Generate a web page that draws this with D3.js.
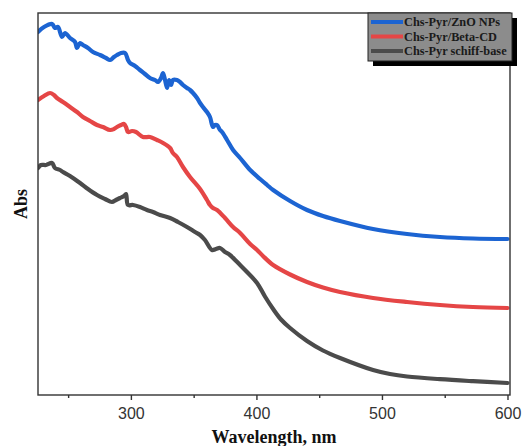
<!DOCTYPE html>
<html><head><meta charset="utf-8">
<script src="https://cdn.jsdelivr.net/npm/d3@7"></script>
<style>body{margin:0;background:#fff}svg{display:block}</style>
</head><body>
<svg id="c" width="527" height="446"></svg>
<script>
const xTicks = [300, 400, 500, 600];
const xMinor = [250, 350, 450, 550];
const seriesNames = ["Chs-Pyr/ZnO NPs", "Chs-Pyr/Beta-CD", "Chs-Pyr schiff-base"];
const seriesColors = ["#1c64d2", "#e54646", "#4b4b4b"];

const znoWl = [226.0,230.8,237.2,239.5,241.9,245.1,247.5,251.5,255.5,257.1,259.5,261.8,265.8,269.8,275.4,280.2,283.4,286.5,288.9,292.1,295.3,297.7,299.3,303.3,307.2,311.2,315.2,319.2,321.6,324.0,325.6,327.2,328.8,330.4,332.0,333.5,336.7,339.1,341.5,344.7,347.1,349.5,352.7,355.1,357.4,360.6,363.0,365.4,367.0,368.6,371.0,372.6,376.6,381.4,387.0,395.0,402.9,408.5,413.3,426.8,440.3,453.0,466.6,492.9,520.0,546.2,572.5,600.0];
const znoAbs = [3.63,3.68,3.71,3.67,3.68,3.58,3.62,3.57,3.53,3.47,3.52,3.50,3.47,3.43,3.40,3.37,3.35,3.38,3.40,3.42,3.42,3.35,3.32,3.29,3.25,3.21,3.17,3.15,3.13,3.17,3.22,3.15,3.07,3.15,3.10,3.15,3.15,3.13,3.10,3.07,3.05,3.02,2.97,2.92,2.88,2.83,2.78,2.68,2.70,2.70,2.65,2.63,2.55,2.45,2.37,2.25,2.16,2.10,2.05,1.94,1.85,1.79,1.74,1.66,1.61,1.58,1.565,1.56];

const cdWl = [226.0,230.8,235.6,238.7,241.1,245.9,251.5,257.1,261.8,267.4,273.0,277.8,283.4,286.5,288.9,292.1,294.5,296.1,297.7,300.9,304.1,309.6,315.2,320.8,325.6,331.2,333.5,336.7,341.5,347.1,355.1,360.6,363.0,365.4,368.6,375.0,381.4,387.0,395.0,400.5,405.2,413.3,426.8,440.3,453.0,466.6,492.9,520.0,546.2,572.5,600.0];
const cdAbs = [2.95,2.99,3.02,3.00,2.97,2.93,2.88,2.83,2.78,2.74,2.70,2.68,2.65,2.66,2.68,2.70,2.71,2.68,2.63,2.64,2.63,2.58,2.58,2.55,2.52,2.47,2.42,2.38,2.28,2.18,2.06,1.95,1.90,1.87,1.85,1.77,1.68,1.62,1.51,1.45,1.39,1.30,1.205,1.13,1.075,1.03,0.97,0.93,0.90,0.88,0.87];

const sbWl = [226.0,228.4,232.4,237.2,239.5,243.5,245.9,251.5,259.5,265.8,273.0,279.4,284.9,288.1,291.3,294.5,296.1,297.7,301.7,307.2,312.8,317.6,323.2,331.2,337.5,344.7,351.1,355.1,359.0,364.6,367.8,371.0,375.0,378.9,387.0,392.5,400.5,406.8,413.3,419.6,426.8,440.3,453.0,466.6,492.9,506.4,520.0,546.2,572.5,600.0];
const sbAbs = [2.27,2.30,2.30,2.32,2.27,2.25,2.23,2.19,2.12,2.06,2.00,1.96,1.93,1.95,1.97,1.99,2.01,1.90,1.90,1.88,1.85,1.83,1.80,1.77,1.73,1.68,1.63,1.60,1.55,1.45,1.46,1.47,1.43,1.40,1.30,1.23,1.12,0.985,0.86,0.755,0.67,0.54,0.445,0.37,0.25,0.21,0.185,0.158,0.138,0.12];

const svg = d3.select("#c");
const L = 38, R = 510, T = 13, B = 395;
const x = d3.scaleLinear().domain([226, 602]).range([L, R]);
const y = d3.scaleLinear().domain([0, 3.82]).range([B, T]);

const series = [
  {wl: znoWl, v: znoAbs},
  {wl: cdWl, v: cdAbs},
  {wl: sbWl, v: sbAbs}
];

const line = d3.line().x(d => x(d[0])).y(d => y(d[1])).curve(d3.curveCatmullRom.alpha(0.5));
svg.append("clipPath").attr("id","pc").append("rect")
  .attr("x", L).attr("y", T).attr("width", R-L).attr("height", B-T);
series.slice().reverse().forEach((s, ri) => {
  const i = series.length - 1 - ri;
  svg.append("path")
    .attr("d", line(s.wl.map((w, k) => [w, s.v[k]])))
    .attr("fill", "none").attr("stroke", seriesColors[i])
    .attr("stroke-width", 4.2).attr("stroke-linejoin", "round").attr("stroke-linecap","round")
    .attr("clip-path", "url(#pc)");
});

// frame
svg.append("rect").attr("x", L).attr("y", T).attr("width", R-L).attr("height", B-T)
  .attr("fill","none").attr("stroke","#333").attr("stroke-width",1.4);

// x axis
const xa = svg.append("g").attr("transform", `translate(0,${B})`)
  .call(d3.axisBottom(x).tickValues(xTicks).tickSize(5).tickPadding(8).tickFormat(d3.format("d")));
xa.select(".domain").remove();
xa.selectAll("line").attr("stroke","#333").attr("stroke-width",1.4);
xa.selectAll("text").attr("font-family","Liberation Sans, Arial, sans-serif").attr("font-size",16).attr("fill","#333");
const xm = svg.append("g").attr("transform", `translate(0,${B})`)
  .call(d3.axisBottom(x).tickValues(xMinor).tickSize(3).tickFormat(""));
xm.select(".domain").remove();
xm.selectAll("line").attr("stroke","#333").attr("stroke-width",1.4);

svg.append("text").attr("x", (L+R)/2).attr("y", 443).attr("text-anchor","middle")
  .attr("font-family","Liberation Serif, Times New Roman, serif").attr("font-weight","bold")
  .attr("font-size",18).attr("fill","#111").text("Wavelength, nm");
svg.append("text").attr("transform", `translate(27,${(T+B)/2}) rotate(-90)`).attr("text-anchor","middle")
  .attr("font-family","Liberation Serif, Times New Roman, serif").attr("font-weight","bold")
  .attr("font-size",18).attr("fill","#111").text("Abs");

// legend
const lg = svg.append("g");
lg.append("rect").attr("x", 373).attr("y", 18).attr("width", 144).attr("height", 48).attr("fill","#000");
lg.append("rect").attr("x", 368).attr("y", 13).attr("width", 144).attr("height", 48)
  .attr("fill","#8c8c8c").attr("stroke","#222").attr("stroke-width",1);
seriesNames.forEach((n, i) => {
  const yy = 22 + i*14.5;
  lg.append("line").attr("x1", 371).attr("x2", 403).attr("y1", yy).attr("y2", yy)
    .attr("stroke", seriesColors[i]).attr("stroke-width", 4);
  lg.append("text").attr("x", 404).attr("y", yy + 4)
    .attr("font-family","Liberation Serif, Times New Roman, serif").attr("font-weight","bold")
    .attr("font-size", 12.3).attr("fill","#1a1a1a").text(n);
});
</script>
</body></html>
